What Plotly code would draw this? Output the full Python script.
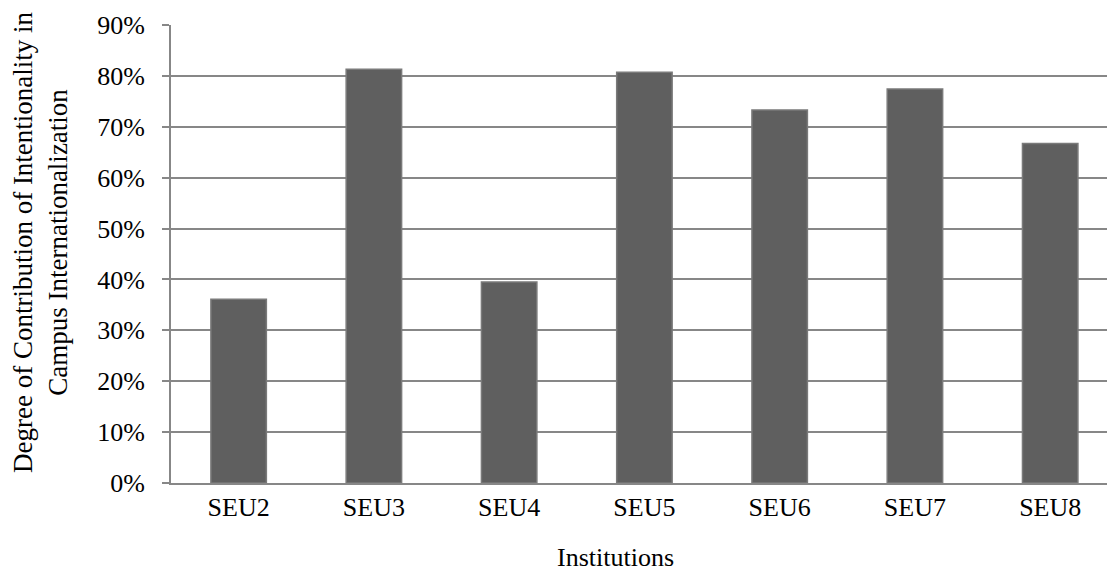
import plotly.graph_objects as go

institutions = ["SEU2", "SEU3", "SEU4", "SEU5", "SEU6", "SEU7", "SEU8"]
contribution = [0.361, 0.813, 0.395, 0.807, 0.733, 0.774, 0.667]

FONT = "Liberation Serif, Times New Roman, serif"
GRID = "#878787"

fig = go.Figure()
fig.add_trace(go.Bar(
    x=institutions,
    y=contribution,
    width=0.41,
    marker=dict(color="#5f5f5f", line=dict(color="#7a7a7a", width=1.5)),
    showlegend=False,
))

fig.update_layout(
    width=1107, height=573,
    margin=dict(l=171, r=0, t=25, b=90),
    plot_bgcolor="white", paper_bgcolor="white",
    font=dict(family=FONT, size=26, color="black"),
    xaxis=dict(
        type="category",
        range=[-0.5, 6.42],
        showline=True, linecolor=GRID, linewidth=2,
        ticks="", showgrid=False,
        tickfont=dict(family=FONT, size=26),
    ),
    yaxis=dict(
        range=[0, 0.9],
        tick0=0, dtick=0.1,
        tickformat=".0%",
        showgrid=True, gridcolor=GRID, gridwidth=2,
        showline=True, linecolor=GRID, linewidth=2,
        ticks="outside", ticklen=7, tickcolor=GRID, tickwidth=2,
        ticklabelstandoff=12,
        zeroline=False,
        tickfont=dict(family=FONT, size=26),
    ),
    annotations=[
        dict(
            text="Degree of Contribution of Intentionality in<br>Campus Internationalization",
            xref="paper", yref="paper", x=-0.14, y=0.526,
            xanchor="center", yanchor="middle",
            textangle=-90, showarrow=False,
            font=dict(family=FONT, size=27),
        ),
        dict(
            text="Institutions",
            xref="paper", yref="paper", x=0.475, y=-0.198,
            xanchor="center", yanchor="bottom",
            showarrow=False,
            font=dict(family=FONT, size=26),
        ),
    ],
)

fig.write_html("out.html")
